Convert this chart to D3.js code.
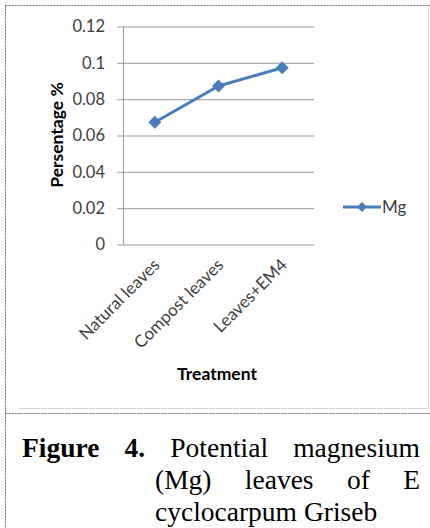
<!DOCTYPE html>
<html>
<head>
<meta charset="utf-8">
<script src="https://cdn.jsdelivr.net/npm/d3@7"></script>
<style>
  html, body { margin: 0; padding: 0; background: #fff; }
  svg { display: block; }
</style>
</head>
<body>
<svg id="chart" width="430" height="528"></svg>
<script>
// ---- data ----
const categories = ["Natural leaves", "Compost leaves", "Leaves+EM4"];
const mgValues = [0.067, 0.087, 0.097];
const seriesName = "Mg";
const yTicks = [0, 0.02, 0.04, 0.06, 0.08, 0.1, 0.12];
const yTickLabels = ["0", "0.02", "0.04", "0.06", "0.08", "0.1", "0.12"];
const yTitle = "Persentage %";
const xTitle = "Treatment";
const captionLines = [
  [{t: "Figure", b: true}, {t: "4.", b: true}, {t: "Potential"}, {t: "magnesium"}],
  [{t: "(Mg)"}, {t: "leaves"}, {t: "of"}, {t: "E"}],
  [{t: "cyclocarpum"}, {t: "Griseb"}]
];

const svg = d3.select("#chart");
const sansFont = "Lato, 'Open Sans', sans-serif";
const blue = "#4a7ebb";

// page frame (dashed table borders)
function dashed(x1, y1, x2, y2) {
  svg.append("line").attr("x1", x1).attr("y1", y1).attr("x2", x2).attr("y2", y2)
    .attr("stroke", "#6b6b6b").attr("stroke-width", 1).attr("stroke-dasharray", "2,1");
}
dashed(5.5, 5.5, 430, 5.5);
dashed(5.5, 5.5, 5.5, 528);
dashed(5.5, 413.5, 430, 413.5);

// chart area edges (light gray)
svg.append("line").attr("x1", 428.5).attr("y1", 6).attr("x2", 428.5).attr("y2", 408.5)
  .attr("stroke", "#d9d9d9");
svg.append("line").attr("x1", 20).attr("y1", 408.5).attr("x2", 428.5).attr("y2", 408.5)
  .attr("stroke", "#d9d9d9");

// scales
const plotL = 123, plotR = 314, plotT = 26, plotB = 244;
const x = d3.scaleBand().domain(categories).range([plotL, plotR]);
const y = d3.scaleLinear().domain([0, 0.12]).range([plotB, plotT]);

// gridlines + y axis
const yAxis = d3.axisLeft(y).tickValues(yTicks)
  .tickFormat((d, i) => yTickLabels[i])
  .tickSize(-(plotR - plotL)).tickPadding(18);
const gy = svg.append("g").attr("transform", `translate(${plotL},0)`).call(yAxis);
gy.select(".domain").remove();
gy.selectAll(".tick line").attr("stroke", "#9a9a9a").attr("x1", -6).attr("x2", plotR - plotL)
  .attr("transform", "translate(0,0.5)");
gy.selectAll(".tick text").attr("fill", "#404040").attr("font-family", sansFont)
  .attr("font-size", 16.5).attr("dy", "0.36em");

// vertical axis line
svg.append("line").attr("x1", plotL + 0.5).attr("x2", plotL + 0.5)
  .attr("y1", plotT).attr("y2", plotB + 0.5).attr("stroke", "#9a9a9a");

// x axis labels
const gx = svg.append("g");
gx.selectAll("text").data(categories).enter().append("text")
  .attr("transform", d => `translate(${x(d) + x.bandwidth() / 2 + 6},${plotB + 22}) rotate(-45)`)
  .attr("text-anchor", "end")
  .attr("font-family", sansFont).attr("font-size", 17).attr("fill", "#404040")
  .text(d => d);

// axis titles
svg.append("text").attr("transform", `translate(63,${(plotT + plotB) / 2}) rotate(-90)`)
  .attr("text-anchor", "middle").attr("font-family", sansFont).attr("font-weight", "bold")
  .attr("font-size", 17.5).attr("fill", "#000").text(yTitle);
svg.append("text").attr("x", 217).attr("y", 380)
  .attr("text-anchor", "middle").attr("font-family", sansFont).attr("font-weight", "bold")
  .attr("font-size", 17.5).attr("fill", "#000").text(xTitle);

// line series
const pts = categories.map((c, i) => ({c, v: mgValues[i]}));
const line = d3.line().x(d => x(d.c) + x.bandwidth() / 2).y(d => y(d.v));
svg.append("path").datum(pts).attr("d", line).attr("fill", "none")
  .attr("stroke", blue).attr("stroke-width", 3).attr("stroke-linejoin", "round");
const diamond = s => `M0,${-s}L${s},0L0,${s}L${-s},0Z`;
svg.selectAll(".mk").data(pts).enter().append("path")
  .attr("transform", d => `translate(${x(d.c) + x.bandwidth() / 2},${y(d.v)})`)
  .attr("d", diamond(6.5)).attr("fill", blue);

// legend
const lg = svg.append("g").attr("transform", "translate(343,207)");
lg.append("line").attr("x1", 0).attr("x2", 38).attr("y1", 0).attr("y2", 0)
  .attr("stroke", blue).attr("stroke-width", 3);
lg.append("path").attr("transform", "translate(19,0)").attr("d", diamond(5)).attr("fill", blue);
lg.append("text").attr("x", 39).attr("y", 6).attr("font-family", sansFont)
  .attr("font-size", 17).attr("fill", "#404040").text(seriesName);

// caption (justified)
const capFont = "'Liberation Serif', 'Times New Roman', serif";
const capSize = 27.5;
const lineSpecs = [
  {left: 22, right: 420, base: 457, justify: true},
  {left: 155, right: 420, base: 489, justify: true},
  {left: 155, right: 420, base: 521, justify: false}
];
captionLines.forEach((words, li) => {
  const spec = lineSpecs[li];
  const nodes = words.map(w => svg.append("text")
    .attr("y", spec.base).attr("font-family", capFont).attr("font-size", capSize)
    .attr("font-weight", w.b ? "bold" : "normal").attr("fill", "#000").text(w.t));
  const widths = nodes.map(n => n.node().getComputedTextLength());
  const total = d3.sum(widths);
  const gap = spec.justify ? (spec.right - spec.left - total) / (words.length - 1) : capSize * 0.25;
  let cx = spec.left;
  nodes.forEach((n, i) => { n.attr("x", cx); cx += widths[i] + gap; });
});
</script>
</body>
</html>
